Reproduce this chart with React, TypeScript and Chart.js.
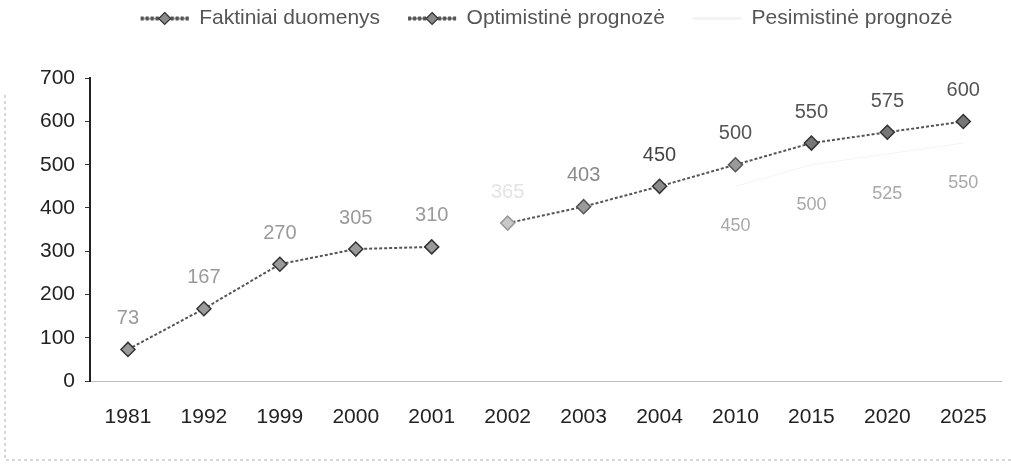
import { useEffect, useRef } from "react";
import { Chart, registerables } from "chart.js";

Chart.register(...registerables);

// ---- data ----
const years = ["1981", "1992", "1999", "2000", "2001", "2002", "2003", "2004", "2010", "2015", "2020", "2025"];
const seriesNames = ["Faktiniai duomenys", "Optimistinė prognozė", "Pesimistinė prognozė"];
const actualValues = [73, 167, 270, 305, 310, null, null, null, null, null, null, null];
const optimisticValues = [null, null, null, null, null, 365, 403, 450, 500, 550, 575, 600];
const pessimisticValues = [null, null, null, null, null, null, null, null, 450, 500, 525, 550];
const yMin = 0;
const yMax = 700;
const yStep = 100;

// ---- styles ----
const FONT = '"Liberation Sans", Arial, sans-serif';
const optimisticLabelColors = ["#444", "#444", "#444", "#444", "#444", "#e4e4e4", "#8a8a8a", "#444", "#555", "#555", "#555", "#555"];
const optimisticPointFill = ["#8a8a8a", "#8a8a8a", "#8a8a8a", "#8a8a8a", "#8a8a8a", "#c8c8c8", "#9a9a9a", "#8a8a8a", "#9a9a9a", "#777", "#777", "#777"];
const optimisticPointBorder = ["#333", "#333", "#333", "#333", "#333", "#999", "#555", "#333", "#555", "#333", "#333", "#333"];
const labelStyles = [
  { color: "#9a9a9a", offset: -31, size: 20 },
  { color: optimisticLabelColors, offset: -31, size: 20 },
  { color: "#a8a8a8", offset: 40, size: 18 },
];

const valueLabels = {
  id: "valueLabels",
  afterDatasetsDraw(chart: any) {
    const ctx = chart.ctx;
    chart.data.datasets.forEach((ds: any, i: number) => {
      const meta = chart.getDatasetMeta(i);
      const st = labelStyles[i];
      meta.data.forEach((pt: any, j: number) => {
        const v = ds.data[j];
        if (v == null) return;
        ctx.save();
        ctx.font = `${st.size}px ${FONT}`;
        ctx.fillStyle = Array.isArray(st.color) ? st.color[j] : st.color;
        ctx.textAlign = "center";
        ctx.textBaseline = "middle";
        ctx.fillText(String(v), pt.x, pt.y + st.offset);
        ctx.restore();
      });
    });
  },
};

const legendShift = {
  id: "legendShift",
  afterLayout(chart: any) {
    const lg = chart.legend;
    if (!lg) return;
    lg.left += 33;
    lg.right += 33;
  },
};

const legendMarkers = {
  id: "legendMarkers",
  afterDraw(chart: any) {
    const lg = chart.legend;
    if (!lg || !lg.legendHitBoxes) return;
    const ctx = chart.ctx;
    const boxW = lg.options.labels.boxWidth;
    lg.legendHitBoxes.forEach((hb: any, i: number) => {
      const ds = chart.data.datasets[i];
      if (!ds || !ds.pointRadius) return;
      const cx = hb.left + boxW / 2;
      const cy = hb.top + hb.height / 2;
      const r = 6;
      ctx.save();
      ctx.beginPath();
      ctx.moveTo(cx, cy - r);
      ctx.lineTo(cx + r, cy);
      ctx.lineTo(cx, cy + r);
      ctx.lineTo(cx - r, cy);
      ctx.closePath();
      ctx.fillStyle = "#8a8a8a";
      ctx.fill();
      ctx.lineWidth = 1.2;
      ctx.strokeStyle = "#333";
      ctx.stroke();
      ctx.restore();
    });
  },
};

const frame = {
  id: "frame",
  beforeDraw(chart: any) {
    const ctx = chart.ctx;
    ctx.save();
    ctx.strokeStyle = "#b0b0b0";
    ctx.lineWidth = 1;
    ctx.setLineDash([3, 3]);
    ctx.beginPath();
    ctx.moveTo(5, 95);
    ctx.lineTo(5, 460);
    ctx.lineTo(chart.width, 460);
    ctx.stroke();
    ctx.restore();
  },
};

export default function App() {
  const ref = useRef<HTMLCanvasElement | null>(null);

  useEffect(() => {
    if (!ref.current) return;
    const chart = new Chart(ref.current, {
      type: "line",
      data: {
        labels: years,
        datasets: [
          {
            label: seriesNames[0],
            data: actualValues,
            borderColor: "#555",
            backgroundColor: "#9a9a9a",
            borderWidth: 2,
            borderDash: [3, 2],
            pointStyle: "rectRot",
            pointRadius: 7,
            pointBackgroundColor: "#9a9a9a",
            pointBorderColor: "#333",
            pointBorderWidth: 1.5,
            spanGaps: false,
          },
          {
            label: seriesNames[1],
            data: optimisticValues,
            borderColor: "#555",
            backgroundColor: "#8a8a8a",
            borderWidth: 2,
            borderDash: [3, 2],
            pointStyle: "rectRot",
            pointRadius: 7,
            pointBackgroundColor: optimisticPointFill,
            pointBorderColor: optimisticPointBorder,
            pointBorderWidth: 1.5,
            spanGaps: true,
          },
          {
            label: seriesNames[2],
            data: pessimisticValues,
            borderColor: "#f4f4f4",
            backgroundColor: "#f4f4f4",
            borderWidth: 1,
            pointRadius: 0,
            spanGaps: true,
          },
        ],
      },
      options: {
        animation: false,
        responsive: true,
        maintainAspectRatio: false,
        layout: { padding: { left: 0, right: -16, top: -20, bottom: 0 } },
        plugins: {
          legend: {
            display: true,
            position: "top",
            labels: {
              boxWidth: 48,
              boxHeight: 2,
              padding: 28,
              color: "#555",
              font: { size: 21, family: FONT },
            },
          },
          title: {
            display: true,
            text: " ",
            position: "top",
            weight: 500,
            font: { size: 1 },
            padding: { top: 38, bottom: 0 },
          } as any,
          tooltip: { enabled: false },
        },
        scales: {
          x: {
            type: "category",
            offset: true,
            grid: { display: false, drawTicks: false },
            border: { display: true, color: "#bdbdbd", dash: [4, 4], width: 1 },
            ticks: {
              color: "#222",
              font: { size: 21, family: FONT },
              padding: 24,
              autoSkip: false,
              maxRotation: 0,
            },
            afterFit(scale: any) {
              scale.height = 91;
            },
          },
          y: {
            min: yMin,
            max: yMax,
            grid: { drawOnChartArea: false, drawTicks: true, tickLength: 5, color: "#333" },
            border: { display: true, color: "#222", width: 2 },
            ticks: {
              stepSize: yStep,
              color: "#222",
              font: { size: 21, family: FONT },
              padding: 10,
            },
            afterFit(scale: any) {
              scale.width = 90;
            },
          },
        },
      },
      plugins: [valueLabels, legendShift, legendMarkers, frame],
    });
    return () => chart.destroy();
  }, []);

  return (
    <div style={{ position: "fixed", left: 0, top: 0, width: 1011, height: 472, background: "#fff" }}>
      <canvas ref={ref} />
    </div>
  );
}
